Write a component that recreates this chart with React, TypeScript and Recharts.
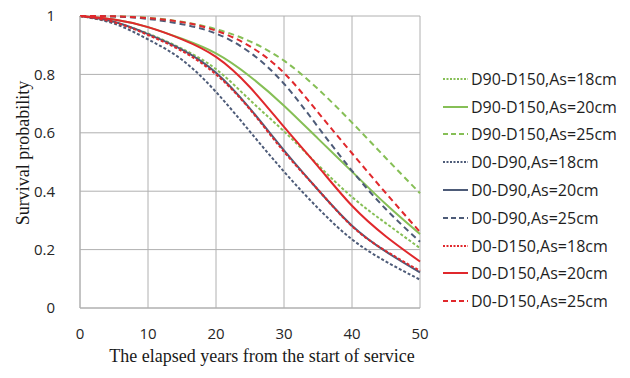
import React from 'react';
import { LineChart, Line, XAxis, YAxis, CartesianGrid, Label } from 'recharts';

const years = [0, 5, 10, 15, 20, 25, 30, 35, 40, 45, 50];
const d90d150As18 = [1, 0.978, 0.94, 0.888, 0.818, 0.712, 0.605, 0.49, 0.38, 0.29, 0.205];
const d90d150As20 = [1, 0.988, 0.962, 0.922, 0.872, 0.793, 0.693, 0.58, 0.467, 0.355, 0.253];
const d90d150As25 = [1, 0.999, 0.994, 0.98, 0.955, 0.913, 0.847, 0.75, 0.635, 0.513, 0.393];
const d0d90As18 = [1, 0.974, 0.92, 0.85, 0.74, 0.604, 0.467, 0.342, 0.235, 0.159, 0.097];
const d0d90As20 = [1, 0.98, 0.938, 0.885, 0.806, 0.683, 0.54, 0.405, 0.282, 0.193, 0.122];
const d0d90As25 = [1, 0.998, 0.99, 0.972, 0.94, 0.875, 0.768, 0.62, 0.47, 0.338, 0.227];
const d0d150As18 = [1, 0.979, 0.935, 0.88, 0.8, 0.68, 0.535, 0.405, 0.28, 0.195, 0.127];
const d0d150As20 = [1, 0.988, 0.962, 0.92, 0.86, 0.756, 0.62, 0.485, 0.35, 0.245, 0.159];
const d0d150As25 = [1, 0.999, 0.993, 0.979, 0.95, 0.896, 0.805, 0.67, 0.53, 0.393, 0.26];

const seriesNames = [
  'D90-D150,As=18cm',
  'D90-D150,As=20cm',
  'D90-D150,As=25cm',
  'D0-D90,As=18cm',
  'D0-D90,As=20cm',
  'D0-D90,As=25cm',
  'D0-D150,As=18cm',
  'D0-D150,As=20cm',
  'D0-D150,As=25cm',
];
const xTicks = [0, 10, 20, 30, 40, 50];
const yTicks = [0, 0.2, 0.4, 0.6, 0.8, 1];
const xTitle = 'The elapsed years from the start of service';
const yTitle = 'Survival probability';

const seriesValues = [
  d90d150As18, d90d150As20, d90d150As25,
  d0d90As18, d0d90As20, d0d90As25,
  d0d150As18, d0d150As20, d0d150As25,
];

const GREEN = '#86bf56';
const BLUE = '#4d5b78';
const RED = '#e0282c';
const DOT = '3 2';
const DASH = '6 4';

const styles = [
  { color: GREEN, dash: DOT },
  { color: GREEN, dash: undefined },
  { color: GREEN, dash: DASH },
  { color: BLUE, dash: DOT },
  { color: BLUE, dash: undefined },
  { color: BLUE, dash: DASH },
  { color: RED, dash: DOT },
  { color: RED, dash: undefined },
  { color: RED, dash: DASH },
];

const data = years.map((yr, i) => {
  const row: Record<string, number> = { year: yr };
  seriesValues.forEach((vals, k) => {
    row['s' + k] = vals[i];
  });
  return row;
});

const LegendBox = () => (
  <div
    style={{
      position: 'absolute',
      left: 443,
      top: 65,
      width: 190,
      fontFamily: '"Open Sans", sans-serif',
      fontSize: 16,
      color: '#1e1e1e',
    }}
  >
    {seriesNames.map((name, k) => (
      <div key={k} style={{ display: 'flex', alignItems: 'center', height: 27.8, whiteSpace: 'nowrap' }}>
        <svg width={28} height={10} style={{ flex: 'none' }}>
          <line
            x1={0}
            y1={5}
            x2={25}
            y2={5}
            stroke={styles[k].color}
            strokeWidth={2}
            strokeDasharray={styles[k].dash === DASH ? '5 3' : styles[k].dash === DOT ? '2 1.5' : undefined}
          />
        </svg>
        <span>{name}</span>
      </div>
    ))}
  </div>
);

const tickStyle = { fontFamily: '"Open Sans", sans-serif', fontSize: 15, fill: '#262626' };

export default function App() {
  return (
    <div style={{ position: 'absolute', left: 0, top: 0, width: 630, height: 378, background: '#fff' }}>
      <LineChart width={630} height={378} data={data} margin={{ top: 16, right: 210, bottom: 0, left: 0 }}>
        <CartesianGrid stroke="#b0b0b0" strokeWidth={1} />
        <XAxis
          dataKey="year"
          type="number"
          domain={[0, 50]}
          ticks={xTicks}
          height={70}
          tickLine={false}
          tickSize={6}
          tickMargin={14}
          axisLine={{ stroke: '#b0b0b0' }}
          tick={tickStyle}
          interval={0}
        >
          <Label
            content={(props: any) => {
              const vb = props.viewBox;
              const cx = vb.x + vb.width / 2 + 12;
              const cy = vb.y + 54;
              return (
                <text x={cx} y={cy} textAnchor="middle" fontFamily='"Liberation Serif", "Times New Roman", serif' fontSize={18} fill="#1a1a1a">
                  {xTitle}
                </text>
              );
            }}
          />
        </XAxis>
        <YAxis
          type="number"
          domain={[0, 1]}
          ticks={yTicks}
          width={80}
          tickLine={false}
          tickSize={6}
          tickMargin={19}
          axisLine={{ stroke: '#b0b0b0' }}
          tick={tickStyle}
          interval={0}
        >
          <Label
            content={(props: any) => {
              const vb = props.viewBox;
              const cx = vb.x + 23;
              const cy = vb.y + vb.height / 2 - 9;
              return (
                <text
                  x={cx}
                  y={cy}
                  transform={`rotate(-90, ${cx}, ${cy})`}
                  textAnchor="middle"
                  dominantBaseline="central"
                  fontFamily='"Liberation Serif", "Times New Roman", serif'
                  fontSize={18}
                  fill="#1a1a1a"
                >
                  {yTitle}
                </text>
              );
            }}
          />
        </YAxis>
        {seriesNames.map((name, k) => (
          <Line
            key={k}
            dataKey={'s' + k}
            name={name}
            type="natural"
            stroke={styles[k].color}
            strokeWidth={2}
            strokeDasharray={styles[k].dash}
            dot={false}
            activeDot={false}
            isAnimationActive={false}
          />
        ))}
      </LineChart>
      <LegendBox />
    </div>
  );
}
